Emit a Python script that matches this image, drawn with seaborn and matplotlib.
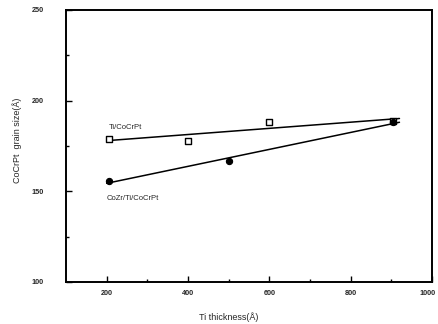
import numpy as np
import pandas as pd
import matplotlib
matplotlib.use("Agg")
import matplotlib.pyplot as plt
import matplotlib.transforms as mtransforms
import seaborn as sns

# data
ti_x = [205, 400, 600, 905]
ti_y = [179, 178, 188, 189]
cozr_x = [205, 500, 905]
cozr_y = [155.5, 167, 188]
x_ticks = [200, 400, 600, 800, 1000]
y_ticks = [100, 150, 200, 250]

sns.set_style("ticks")
plt.rcParams['font.family'] = ['Liberation Sans', 'DejaVu Sans']

fig = plt.figure(figsize=(4.38, 3.24), dpi=100)
ax = fig.add_axes([66/438, 1 - 282/324, (432-66)/438, (282-10)/324])

df_ti = pd.DataFrame({"x": ti_x, "y": ti_y})
df_co = pd.DataFrame({"x": cozr_x, "y": cozr_y})

# fit lines
xs = np.array([200, 920])
for d in (df_ti, df_co):
    p = np.polyfit(d["x"], d["y"], 1)
    ax.plot(xs, np.polyval(p, xs), color="black", lw=1.1, zorder=2)

sns.scatterplot(data=df_ti, x="x", y="y", ax=ax, marker="s", s=22,
                facecolor="white", edgecolor="black", linewidth=1.0, zorder=3)
sns.scatterplot(data=df_co, x="x", y="y", ax=ax, marker="o", s=20,
                color="black", edgecolor="black", linewidth=0.8, zorder=3)

ax.set_xlim(100, 1000)
ax.set_ylim(100, 250)
ax.set_xticks(x_ticks)
ax.set_yticks(y_ticks)
ax.set_xticks([300, 500, 700, 900], minor=True)
ax.set_yticks([125, 175, 225], minor=True)
ax.tick_params(axis="both", which="both", direction="in", labelsize=5.2, color="black")
ax.tick_params(axis="both", which="major", length=4, width=1)
ax.tick_params(axis="both", which="minor", length=2.5, width=1)
ax.tick_params(axis="y", pad=16)
ax.tick_params(axis="x", pad=6)
fig.canvas.draw()
for lab in ax.get_xticklabels() + ax.get_yticklabels():
    lab.set_fontweight("bold")
last = ax.get_xticklabels()[-1]
last.set_horizontalalignment("right")
last.set_transform(last.get_transform() + mtransforms.ScaledTranslation(4/100, 0, fig.dpi_scale_trans))
for s in ax.spines.values():
    s.set_visible(True)
    s.set_linewidth(1.4)
    s.set_color("black")

ax.set_xlabel("Ti thickness(Å)", fontsize=6.5)
ax.xaxis.set_label_coords((229-66)/366, -0.11)
ax.set_ylabel("CoCrPt  grain size(Å)", fontsize=6.5)
ax.yaxis.set_label_coords(-0.12, 0.52)

ax.text(205, 183, "Ti/CoCrPt", fontsize=5.5, ha="left", va="bottom")
ax.text(200, 148, "CoZr/Ti/CoCrPt", fontsize=5.5, ha="left", va="top")

fig.savefig("out.png", dpi=100)
